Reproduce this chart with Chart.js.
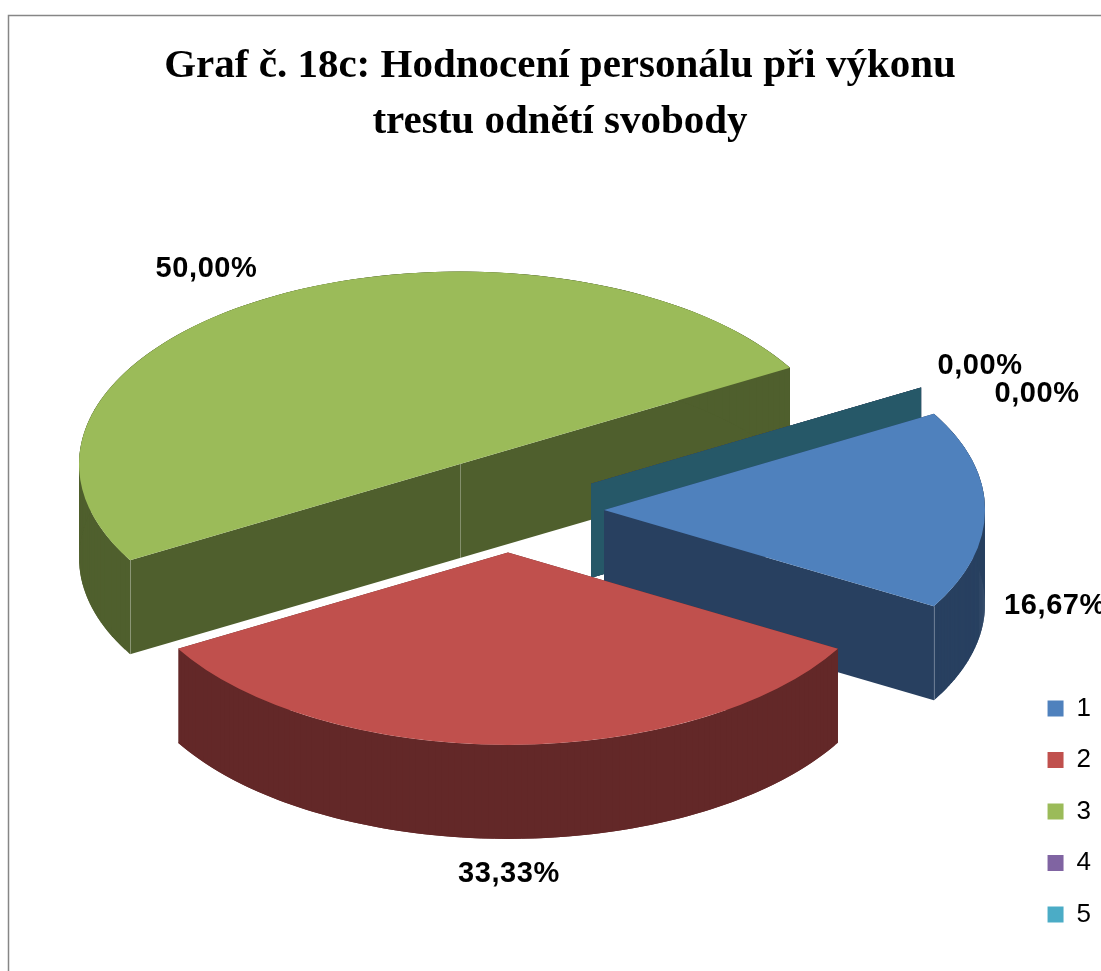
<!DOCTYPE html>
<html>
<head>
<meta charset="utf-8">
<title>Graf č. 18c</title>
<script src="https://cdn.jsdelivr.net/npm/chart.js@4"></script>
<style>
  html, body { margin: 0; padding: 0; background: #fff; overflow: hidden; }
  canvas { display: block; }
</style>
</head>
<body>
<canvas id="myChart" width="1101" height="971"></canvas>
<script>
const titleLines = ["Graf č. 18c: Hodnocení personálu při výkonu", "trestu odnětí svobody"];
const categories = ["1", "2", "3", "4", "5"];
const shares = [16.67, 33.33, 50.00, 0.00, 0.00];

const topColors = ["#4F81BD", "#C0504D", "#9BBB59", "#8064A2", "#4BACC6"];
const sideColors = ["#284060", "#632828", "#4F5F2D", "#40325A", "#265868"];

// fake 3D setup, the library lays out a flat pie and the plugin squashes + extrudes it
const pieX = 508;
const pieY = 507;
const squash = 0.505;
const depth = 94;
const explode = 96;

const paintOrder = [2, 3, 4, 0, 1];
const sliceShiftY = [3, -3, -1, 1, 1];
const labelNudges = [[70, 96], [1, 129], [-63, -28], [59, -22], [116, 6]];

function percentText(value) {
    return value.toFixed(2).replace(".", ",") + "%";
}

function slicePoint(arc, index, angle, radius) {
    const mid = (arc.startAngle + arc.endAngle) / 2;
    return {
        x: pieX + Math.cos(mid) * explode + Math.cos(angle) * radius,
        y: pieY + sliceShiftY[index] + (Math.sin(mid) * explode + Math.sin(angle) * radius) * squash
    };
}

function drawTop(ctx, arc, index) {
    const mid = (arc.startAngle + arc.endAngle) / 2;
    ctx.save();
    ctx.translate(pieX, pieY + sliceShiftY[index]);
    ctx.scale(1, squash);
    ctx.translate(Math.cos(mid) * explode - arc.x, Math.sin(mid) * explode - arc.y);
    arc.draw(ctx);
    ctx.restore();
}

// quad hanging down from one edge of the top face
function fillWall(ctx, a, b, color) {
    ctx.fillStyle = color;
    ctx.beginPath();
    ctx.moveTo(a.x, a.y);
    ctx.lineTo(b.x, b.y);
    ctx.lineTo(b.x, b.y + depth);
    ctx.lineTo(a.x, a.y + depth);
    ctx.closePath();
    ctx.fill();
}

function drawWalls(ctx, arc, i) {
    const apex = slicePoint(arc, i, arc.startAngle, 0);
    const r = arc.outerRadius;
    fillWall(ctx, apex, slicePoint(arc, i, arc.startAngle, r), sideColors[i]);
    fillWall(ctx, apex, slicePoint(arc, i, arc.endAngle, r), sideColors[i]);
    if (arc.circumference === 0) return;
    // rim in small overlapping pieces so no seams show
    const steps = 120;
    for (let k = 0; k < steps; k++) {
        const from = arc.startAngle + arc.circumference * k / steps;
        const to = arc.startAngle + arc.circumference * Math.min(k + 2, steps) / steps;
        fillWall(ctx, slicePoint(arc, i, from, r), slicePoint(arc, i, to, r), sideColors[i]);
    }
}

function drawRidge(ctx, p) {
    ctx.strokeStyle = "rgba(255,255,255,0.3)";
    ctx.lineWidth = 1;
    ctx.beginPath();
    ctx.moveTo(Math.round(p.x) + 0.5, p.y);
    ctx.lineTo(Math.round(p.x) + 0.5, p.y + depth);
    ctx.stroke();
}

const framePlugin = {
    id: "frame",
    beforeDraw(chart) {
        const ctx = chart.ctx;
        ctx.save();
        ctx.strokeStyle = "#868686";
        ctx.lineWidth = 1.5;
        ctx.beginPath();
        ctx.moveTo(8.5, chart.height);
        ctx.lineTo(8.5, 15.5);
        ctx.lineTo(chart.width, 15.5);
        ctx.stroke();
        ctx.restore();
    }
};

const pie3dPlugin = {
    id: "pie3d",
    beforeDatasetsDraw(chart) {
        const ctx = chart.ctx;
        const arcs = chart.getDatasetMeta(0).data;

        paintOrder.forEach(function (i) {
            const arc = arcs[i];
            drawWalls(ctx, arc, i);
            if (arc.circumference === 0) return;
            drawTop(ctx, arc, i);
            if (arc.circumference < Math.PI * 0.99) {
                drawRidge(ctx, slicePoint(arc, i, arc.endAngle, arc.outerRadius));
            } else {
                drawRidge(ctx, slicePoint(arc, i, arc.startAngle, 0));
                drawRidge(ctx, slicePoint(arc, i, arc.startAngle, arc.outerRadius));
            }
        });

        ctx.save();
        ctx.fillStyle = "#000";
        ctx.font = 'bold 29px "Liberation Sans"';
        ctx.letterSpacing = "0.6px";
        ctx.textAlign = "center";
        ctx.textBaseline = "middle";
        arcs.forEach(function (arc, i) {
            const mid = (arc.startAngle + arc.endAngle) / 2;
            const p = slicePoint(arc, i, mid, arc.outerRadius);
            ctx.fillText(percentText(shares[i]), p.x + labelNudges[i][0], p.y + labelNudges[i][1]);
        });
        ctx.restore();
        return false;
    }
};

var ctx = document.getElementById("myChart").getContext("2d");
var myChart = new Chart(ctx, {
    type: "pie",
    data: {
        labels: categories,
        datasets: [{
            data: shares,
            backgroundColor: topColors,
            borderWidth: 0
        }]
    },
    options: {
        responsive: false,
        animation: false,
        rotation: 60,
        radius: 381,
        layout: { padding: { left: 19, right: 0, top: 39, bottom: 18 } },
        plugins: {
            tooltip: { enabled: false },
            title: {
                display: true,
                text: titleLines,
                color: "#000",
                font: { family: '"Liberation Serif"', size: 41, weight: "bold", lineHeight: 1.35 },
                padding: { top: 0, bottom: 0 }
            },
            legend: {
                position: "right",
                align: "end",
                labels: {
                    color: "#000",
                    boxWidth: 16,
                    boxHeight: 16,
                    padding: 25.5,
                    font: { family: '"Liberation Sans"', size: 26 }
                }
            }
        }
    },
    plugins: [framePlugin, pie3dPlugin]
});
</script>
</body>
</html>
